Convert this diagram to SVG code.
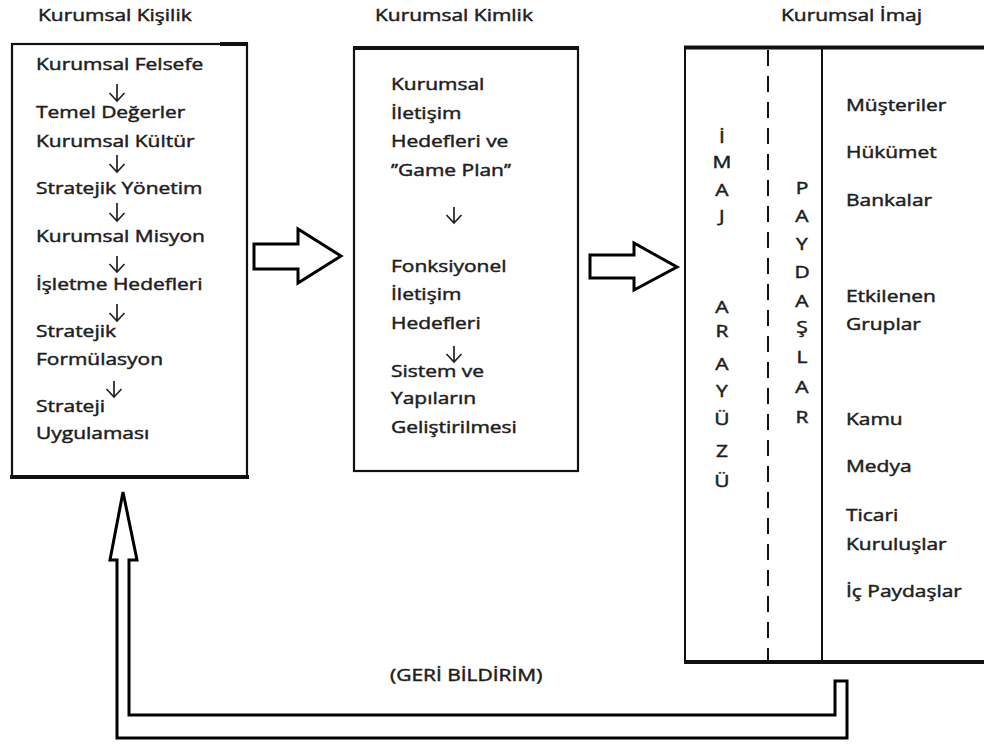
<svg xmlns="http://www.w3.org/2000/svg" width="984" height="744" viewBox="0 0 984 744">
  <defs>
    <style>
      .t { font-family: "Open Sans", "Liberation Sans", sans-serif; font-size: 16px; fill: #1e1e1e; stroke: #1e1e1e; stroke-width: 0.45; font-weight: 400; }
      .c { text-anchor: middle; }
      .box { fill: #ffffff; stroke: #111; stroke-width: 2.2; }
      .edge { fill: none; stroke: #111; stroke-width: 4; }
      .thin { fill: none; stroke: #111; stroke-width: 2; }
      .dash { fill: none; stroke: #111; stroke-width: 2; stroke-dasharray: 16 10; }
      .step { fill: none; stroke: #222; stroke-width: 1.7; }
      .block { fill: #ffffff; stroke: #000; stroke-width: 3; stroke-linejoin: miter; }
    </style>
  </defs>
  <rect width="984" height="744" fill="#ffffff"/>

  <!-- Kurumsal Kişilik -->
  <g id="kisilik">
    <rect class="box" x="12" y="44" width="235" height="433"/>
    <path class="edge" d="M10 477 H249"/>
    <path class="edge" d="M220 44 H248"/>
    <g transform="scale(1.31 1)">
      <text class="t" x="29" y="21">Kurumsal Kişilik</text>
      <text class="t" x="27.5" y="70">Kurumsal Felsefe</text>
      <text class="t" x="27.5" y="118">Temel Değerler</text>
      <text class="t" x="27.5" y="147">Kurumsal Kültür</text>
      <text class="t" x="27.5" y="194">Stratejik Yönetim</text>
      <text class="t" x="27.5" y="242">Kurumsal Misyon</text>
      <text class="t" x="27.5" y="290">İşletme Hedefleri</text>
      <text class="t" x="27.5" y="337">Stratejik</text>
      <text class="t" x="27.5" y="365">Formülasyon</text>
      <text class="t" x="27.5" y="412">Strateji</text>
      <text class="t" x="27.5" y="439">Uygulaması</text>
    </g>
  </g>

  <!-- Kurumsal Kimlik -->
  <g id="kimlik">
    <rect class="box" x="354" y="48" width="224" height="423"/>
    <path class="edge" d="M353 48 H579"/>
    <g transform="scale(1.31 1)">
      <text class="t" x="286.3" y="21">Kurumsal Kimlik</text>
      <text class="t" x="298.5" y="90">Kurumsal</text>
      <text class="t" x="298.5" y="119">İletişim</text>
      <text class="t" x="298.5" y="147">Hedefleri ve</text>
      <text class="t" x="298.5" y="176">’’Game Plan’’</text>
      <text class="t" x="298.5" y="272">Fonksiyonel</text>
      <text class="t" x="298.5" y="300">İletişim</text>
      <text class="t" x="298.5" y="329">Hedefleri</text>
      <text class="t" x="298.5" y="377">Sistem ve</text>
      <text class="t" x="298.5" y="404">Yapıların</text>
      <text class="t" x="298.5" y="433">Geliştirilmesi</text>
    </g>
  </g>

  <!-- Kurumsal İmaj -->
  <g id="imaj">
    <path class="thin" d="M685 47 V662"/>
    <path class="edge" d="M684 47.5 H990 M684 662 H990"/>
    <path class="dash" d="M768 50 V660"/>
    <path class="thin" d="M822 49 V661"/>
    <g transform="scale(1.31 1)">
      <text class="t" x="596.2" y="21">Kurumsal İmaj</text>
      <text class="t c" x="551.1" y="143">İ</text>
      <text class="t c" x="551.1" y="168">M</text>
      <text class="t c" x="551.1" y="196">A</text>
      <text class="t c" x="551.1" y="222">J</text>
      <text class="t c" x="551.1" y="313">A</text>
      <text class="t c" x="551.1" y="337">R</text>
      <text class="t c" x="551.1" y="370">A</text>
      <text class="t c" x="551.1" y="397">Y</text>
      <text class="t c" x="551.1" y="425">Ü</text>
      <text class="t c" x="551.1" y="457">Z</text>
      <text class="t c" x="551.1" y="487">Ü</text>

      <text class="t c" x="612.2" y="194">P</text>
      <text class="t c" x="612.2" y="222">A</text>
      <text class="t c" x="612.2" y="250">Y</text>
      <text class="t c" x="612.2" y="278">D</text>
      <text class="t c" x="612.2" y="307">A</text>
      <text class="t c" x="612.2" y="333">Ş</text>
      <text class="t c" x="612.2" y="363">L</text>
      <text class="t c" x="612.2" y="393">A</text>
      <text class="t c" x="612.2" y="423">R</text>

      <text class="t" x="645.8" y="111">Müşteriler</text>
      <text class="t" x="645.8" y="158">Hükümet</text>
      <text class="t" x="645.8" y="206">Bankalar</text>
      <text class="t" x="645.8" y="302">Etkilenen</text>
      <text class="t" x="645.8" y="330">Gruplar</text>
      <text class="t" x="645.8" y="425">Kamu</text>
      <text class="t" x="645.8" y="472">Medya</text>
      <text class="t" x="645.8" y="521">Ticari</text>
      <text class="t" x="645.8" y="550">Kuruluşlar</text>
      <text class="t" x="645.8" y="597">İç Paydaşlar</text>
    </g>
  </g>

  <!-- Connectors -->
  <g id="connectors">
    <!-- step arrows inside the columns -->
    <path class="step" d="M117 84 V101 M109.5 93 L117 101 L124.5 93"/>
    <path class="step" d="M117 155 V172 M109.5 164 L117 172 L124.5 164"/>
    <path class="step" d="M117 203 V221 M109.5 213 L117 221 L124.5 213"/>
    <path class="step" d="M117 256 V272 M109.5 264 L117 272 L124.5 264"/>
    <path class="step" d="M117 304 V321 M109.5 313 L117 321 L124.5 313"/>
    <path class="step" d="M114 381 V397 M106.5 389 L114 397 L121.5 389"/>
    <path class="step" d="M454 207 V223 M446.5 215 L454 223 L461.5 215"/>
    <path class="step" d="M454 346 V362 M446.5 354 L454 362 L461.5 354"/>

    <!-- block arrows between stages -->
    <path class="block" d="M254 244 H298 V229 L341 256 L298 283 V269 H254 Z"/>
    <path class="block" d="M590 255 H634 V243 L677 267 L634 290 V278 H590 Z"/>

    <!-- feedback loop -->
    <path class="block" d="M123 492 L137 560 H129 V715 H835 V681 H847 V738 H117 V560 H110 Z"/>
    <g transform="scale(1.31 1)">
      <text class="t" x="297.7" y="681">(GERİ BİLDİRİM)</text>
    </g>
  </g>
</svg>
